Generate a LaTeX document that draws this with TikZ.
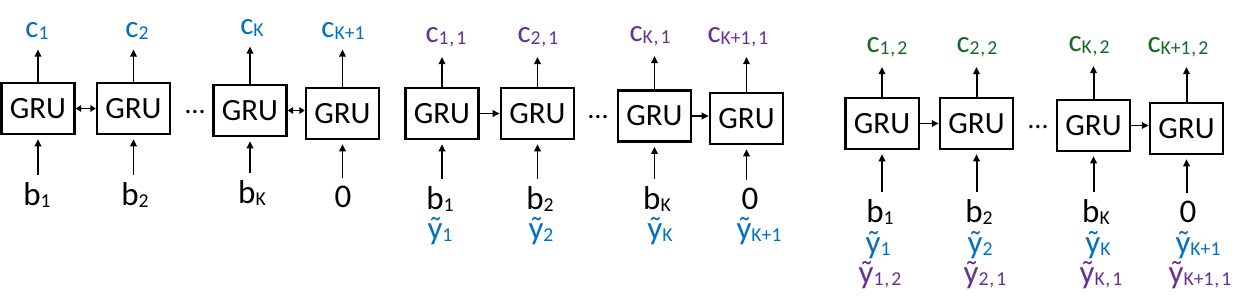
\documentclass[tikz,border=0pt]{standalone}
\usepackage{fontspec}
\setmainfont{Carlito}
\usepackage{tikz}
\usetikzlibrary{arrows.meta,positioning,calc}
\usepackage{xcolor}

\definecolor{cblue}{RGB}{0,112,192}
\definecolor{cpurple}{RGB}{104,48,145}
\definecolor{cgreen}{RGB}{22,104,34}

\newcommand{\idx}[1]{\raisebox{-1.6pt}{\fontsize{14pt}{15pt}\selectfont #1}}
\newcommand{\cma}{\kern0.5pt,\kern1.5pt}

\begin{document}
\begin{tikzpicture}[
        x=0.025cm, y=-0.025cm,
        >={Triangle[length=5pt,width=4.6pt]},
        gru/.style={draw, line width=1.6pt, minimum width=1.83cm, minimum height=1.28cm, inner sep=0pt, font=\fontsize{22pt}{26pt}\selectfont},
        lbl/.style={inner sep=0pt, anchor=base, font=\fontsize{23.5pt}{28pt}\selectfont},
        top/.style={inner sep=0pt, anchor=base, font=\fontsize{22pt}{26pt}\selectfont},
        dots/.style={inner sep=0pt, anchor=base, font=\fontsize{20pt}{24pt}\selectfont},
        up/.style={->, line width=1.4pt, shorten >=0.25cm},
        feed/.style={->, line width=1.4pt, shorten <=0.17cm, shorten >=0.1cm},
        link/.style={->, line width=1.4pt},
        bidir/.style={<->, line width=1.4pt, >={Triangle[length=3.8pt,width=4.6pt]}}
    ]
        \useasboundingbox (0,0) rectangle (1240,297);

        % first chain (bidirectional)
        \node[gru] (g11) at (38,108.5) {GRU};
        \node[gru] (g12) at (133.5,108.5) {GRU};
        \node[gru] (g13) at (250,110.5) {GRU};
        \node[gru] (g14) at (342.5,113.5) {GRU};
        \node[dots] (d1) at (195,113.5) {…};

        \node[top, cblue] (c11) at (37,37) {c\idx{1}};
        \node[top, cblue] (c12) at (137,37) {c\idx{2}};
        \node[top, cblue] (c13) at (252,34) {c\idx{K}};
        \node[top, cblue] (c14) at (343,37) {c\idx{K+1}};

        \node[lbl] (b11) at (37,205) {b\idx{1}};
        \node[lbl] (b12) at (135,205) {b\idx{2}};
        \node[lbl] (b13) at (252,203) {b\idx{K}};
        \node[lbl] (b14) at (343,207) {0};

        \draw[bidir] (g11) -- (g12);
        \draw[bidir] (g13.east) -- (g13.east -| g14.west);
        \draw[up] (g11) -- (g11 |- c11.south);
        \draw[up] (g12) -- (g12 |- c12.south);
        \draw[up] (g13) -- (g13 |- c13.south);
        \draw[up] (g14) -- (g14 |- c14.south);
        \draw[feed] (g11 |- b11.north) -- (g11);
        \draw[feed] (g12 |- b12.north) -- (g12);
        \draw[feed] (g13 |- b13.north) -- (g13);
        \draw[feed] (g14 |- b14.north) -- (g14);

        % second chain
        \node[gru] (g21) at (442,113.5) {GRU};
        \node[gru] (g22) at (537.5,113.5) {GRU};
        \node[gru] (g23) at (654.5,116) {GRU};
        \node[gru] (g24) at (746.5,118.5) {GRU};
        \node[dots] (d2) at (598,118.5) {…};

        \node[top, cpurple] (c21) at (446,42) {c\idx{1\cma1}};
        \node[top, cpurple] (c22) at (538,42) {c\idx{2\cma1}};
        \node[top, cpurple] (c23) at (650,41) {c\idx{K\cma1}};
        \node[top, cpurple] (c24) at (738,42) {c\idx{K+1\cma1}};

        \node[lbl] (b21) at (440,209) {b\idx{1}};
        \node[lbl] (b22) at (540,209) {b\idx{2}};
        \node[lbl] (b23) at (657,209) {b\idx{K}};
        \node[lbl] (b24) at (750,209) {0};

        \node[lbl, cblue] (y21) at (440,239) {ỹ\idx{1}};
        \node[lbl, cblue] (y22) at (541,239) {ỹ\idx{2}};
        \node[lbl, cblue] (y23) at (660,239) {ỹ\idx{K}};
        \node[lbl, cblue] (y24) at (759,239) {ỹ\idx{K+1}};

        \draw[link] (g21) -- (g22);
        \draw[link] (g23.east) -- (g23.east -| g24.west);
        \draw[up] (g21) -- (g21 |- c21.south);
        \draw[up] (g22) -- (g22 |- c22.south);
        \draw[up] (g23) -- (g23 |- c23.south);
        \draw[up] (g24) -- (g24 |- c24.south);
        \draw[feed] (g21 |- b21.north) -- (g21);
        \draw[feed] (g22 |- b22.north) -- (g22);
        \draw[feed] (g23 |- b23.north) -- (g23);
        \draw[feed] (g24 |- b24.north) -- (g24);

        % third chain
        \node[gru] (g31) at (882,123.5) {GRU};
        \node[gru] (g32) at (976.5,123.5) {GRU};
        \node[gru] (g33) at (1093.5,125.5) {GRU};
        \node[gru] (g34) at (1186.5,128.5) {GRU};
        \node[dots] (d3) at (1038,128.5) {…};

        \node[top, cgreen] (c31) at (887,52) {c\idx{1\cma2}};
        \node[top, cgreen] (c32) at (977,52) {c\idx{2\cma2}};
        \node[top, cgreen] (c33) at (1089,51) {c\idx{K\cma2}};
        \node[top, cgreen] (c34) at (1178,52) {c\idx{K+1\cma2}};

        \node[lbl] (b31) at (880,222) {b\idx{1}};
        \node[lbl] (b32) at (979,222) {b\idx{2}};
        \node[lbl] (b33) at (1096,222) {b\idx{K}};
        \node[lbl] (b34) at (1188,222) {0};

        \node[lbl, cblue] (y31) at (878,253) {ỹ\idx{1}};
        \node[lbl, cblue] (y32) at (980,253) {ỹ\idx{2}};
        \node[lbl, cblue] (y33) at (1098,253) {ỹ\idx{K}};
        \node[lbl, cblue] (y34) at (1198,253) {ỹ\idx{K+1}};

        \node[lbl, cpurple] (z31) at (880,283) {ỹ\idx{1\cma2}};
        \node[lbl, cpurple] (z32) at (985,283) {ỹ\idx{2\cma1}};
        \node[lbl, cpurple] (z33) at (1101,283) {ỹ\idx{K\cma1}};
        \node[lbl, cpurple] (z34) at (1200,283) {ỹ\idx{K+1\cma1}};

        \draw[link] (g31) -- (g32);
        \draw[link] (g33.east) -- (g33.east -| g34.west);
        \draw[up] (g31) -- (g31 |- c31.south);
        \draw[up] (g32) -- (g32 |- c32.south);
        \draw[up] (g33) -- (g33 |- c33.south);
        \draw[up] (g34) -- (g34 |- c34.south);
        \draw[feed] (g31 |- b31.north) -- (g31);
        \draw[feed] (g32 |- b32.north) -- (g32);
        \draw[feed] (g33 |- b33.north) -- (g33);
        \draw[feed] (g34 |- b34.north) -- (g34);
    \end{tikzpicture}
\end{document}
